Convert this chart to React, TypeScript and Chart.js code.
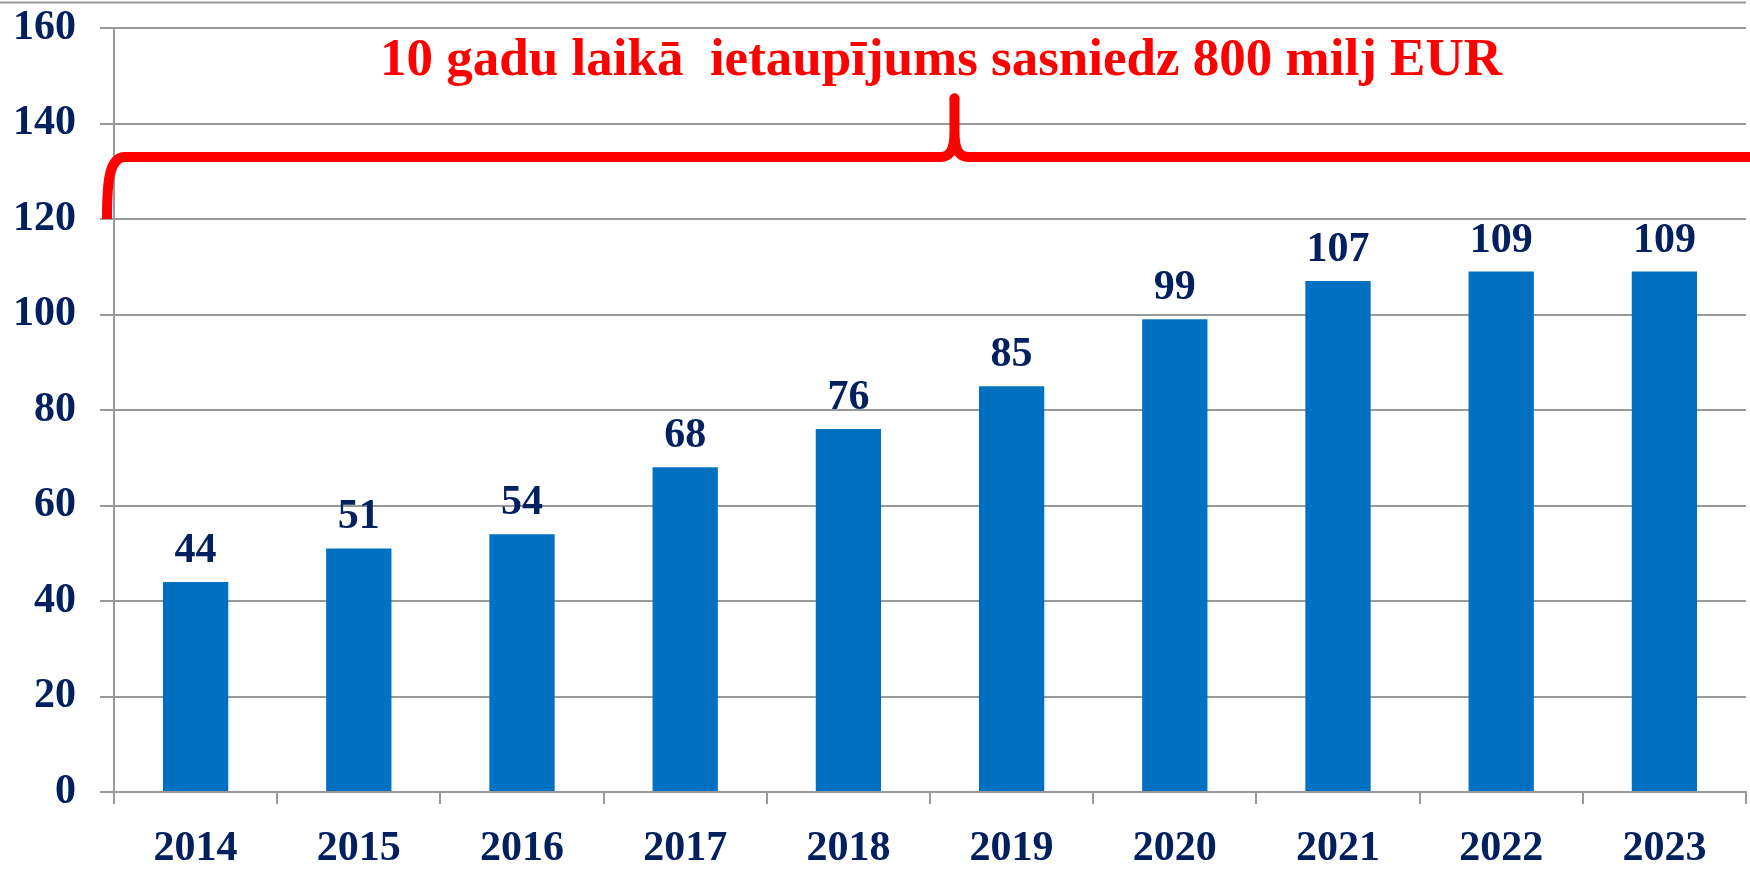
import React, { useEffect, useRef } from "react";
import { Chart, registerables } from "chart.js";

Chart.register(...registerables);

const years = ["2014", "2015", "2016", "2017", "2018", "2019", "2020", "2021", "2022", "2023"];
const savings = [44, 51, 54, 68, 76, 85, 99, 107, 109, 109];
const yTicks = [0, 20, 40, 60, 80, 100, 120, 140, 160];
const titleText = "10 gadu laikā  ietaupījums sasniedz 800 milj EUR";
// brace levels in axis units
const braceBottom = 120;
const braceLevel = 133;
const bracePeak = 145.3;
const bracePeakIndex = 4.65;

const NAVY = "#002060";
const BLUE = "#0070C0";
const GRID = "#999999";
const FONT = "'Liberation Serif', 'Times New Roman', serif";

const overlay = {
  id: "overlay",
  afterDatasetsDraw(chart: any) {
    const ctx = chart.ctx;
    const { chartArea } = chart;
    const xs = chart.scales.x;
    const ys = chart.scales.y;
    ctx.save();
    // top border line
    ctx.strokeStyle = GRID;
    ctx.lineWidth = 2;
    ctx.beginPath();
    ctx.moveTo(0, 2.5);
    ctx.lineTo(chartArea.right, 2.5);
    ctx.stroke();

    // value labels
    const meta = chart.getDatasetMeta(0);
    ctx.fillStyle = NAVY;
    ctx.font = `bold 42px ${FONT}`;
    ctx.textAlign = "center";
    ctx.textBaseline = "alphabetic";
    meta.data.forEach((bar: any, i: number) => {
      ctx.fillText(String(savings[i]), bar.x, bar.y - 20);
    });

    // brace
    const yB = ys.getPixelForValue(braceBottom);
    const yL = ys.getPixelForValue(braceLevel);
    const yP = ys.getPixelForValue(bracePeak);
    const xP = xs.getPixelForValue(bracePeakIndex);
    const xL = chartArea.left - 7;
    ctx.strokeStyle = "#FF0000";
    ctx.lineWidth = 10;
    ctx.lineCap = "butt";
    ctx.lineJoin = "round";
    ctx.beginPath();
    ctx.moveTo(xL, yB);
    ctx.bezierCurveTo(xL, yL + 25, xL + 2, yL, xL + 18, yL);
    ctx.lineTo(xP - 14, yL);
    ctx.bezierCurveTo(xP - 4, yL, xP, yL - 8, xP, yL - 25);
    ctx.lineTo(xP, yP);
    ctx.moveTo(xP, yL - 25);
    ctx.bezierCurveTo(xP, yL - 8, xP + 4, yL, xP + 14, yL);
    ctx.lineTo(chart.width + 10, yL);
    ctx.stroke();
    ctx.fillStyle = "#FF0000";
    ctx.beginPath();
    ctx.arc(xP, yP, 5, 0, Math.PI * 2);
    ctx.fill();

    // title
    ctx.fillStyle = "#FF0000";
    ctx.font = `bold 53px ${FONT}`;
    ctx.textAlign = "center";
    ctx.textBaseline = "alphabetic";
    const cx = (chartArea.left + chartArea.right) / 2 + 11;
    ctx.fillText(titleText, cx, chartArea.top + 47);
    ctx.restore();
  },
};

export default function App() {
  const ref = useRef<HTMLCanvasElement | null>(null);
  useEffect(() => {
    document.body.style.margin = "0";
    const canvas = ref.current;
    if (!canvas) return;
    const chart = new Chart(canvas, {
      type: "bar",
      data: {
        labels: years,
        datasets: [
          {
            data: savings,
            backgroundColor: BLUE,
            borderWidth: 0,
            categoryPercentage: 1,
            barPercentage: 0.4,
          },
        ],
      },
      options: {
        animation: false,
        responsive: false,
        maintainAspectRatio: false,
        layout: { padding: { top: 28, right: 4, left: 0, bottom: 0 } },
        plugins: { legend: { display: false }, tooltip: { enabled: false }, title: { display: false } },
        scales: {
          x: {
            offset: true,
            grid: {
              offset: true,
              drawOnChartArea: false,
              drawTicks: true,
              tickLength: 12,
              color: GRID,
              lineWidth: 2,
            },
            border: { display: true, color: GRID, width: 2 },
            ticks: {
              color: NAVY,
              font: { family: FONT, size: 42, weight: "bold" },
              padding: 20,
              maxRotation: 0,
            },
            afterFit(scale: any) {
              scale.height = 77;
              scale.paddingLeft = 0;
              scale.paddingRight = 0;
            },
          },
          y: {
            min: 0,
            max: 160,
            afterBuildTicks(scale: any) {
              scale.ticks = yTicks.map((v) => ({ value: v }));
            },
            grid: {
              color: GRID,
              lineWidth: 2,
              tickLength: 14,
              drawTicks: true,
            },
            border: { display: true, color: GRID, width: 2 },
            ticks: {
              color: NAVY,
              font: { family: FONT, size: 42, weight: "bold" },
              padding: 24,
            },
            afterFit(scale: any) {
              scale.width = 114;
              scale.paddingTop = 0;
              scale.paddingBottom = 0;
            },
          },
        },
      },
      plugins: [overlay],
    });
    return () => chart.destroy();
  }, []);
  return <canvas ref={ref} width={1750} height={869} style={{ display: "block" }} />;
}
